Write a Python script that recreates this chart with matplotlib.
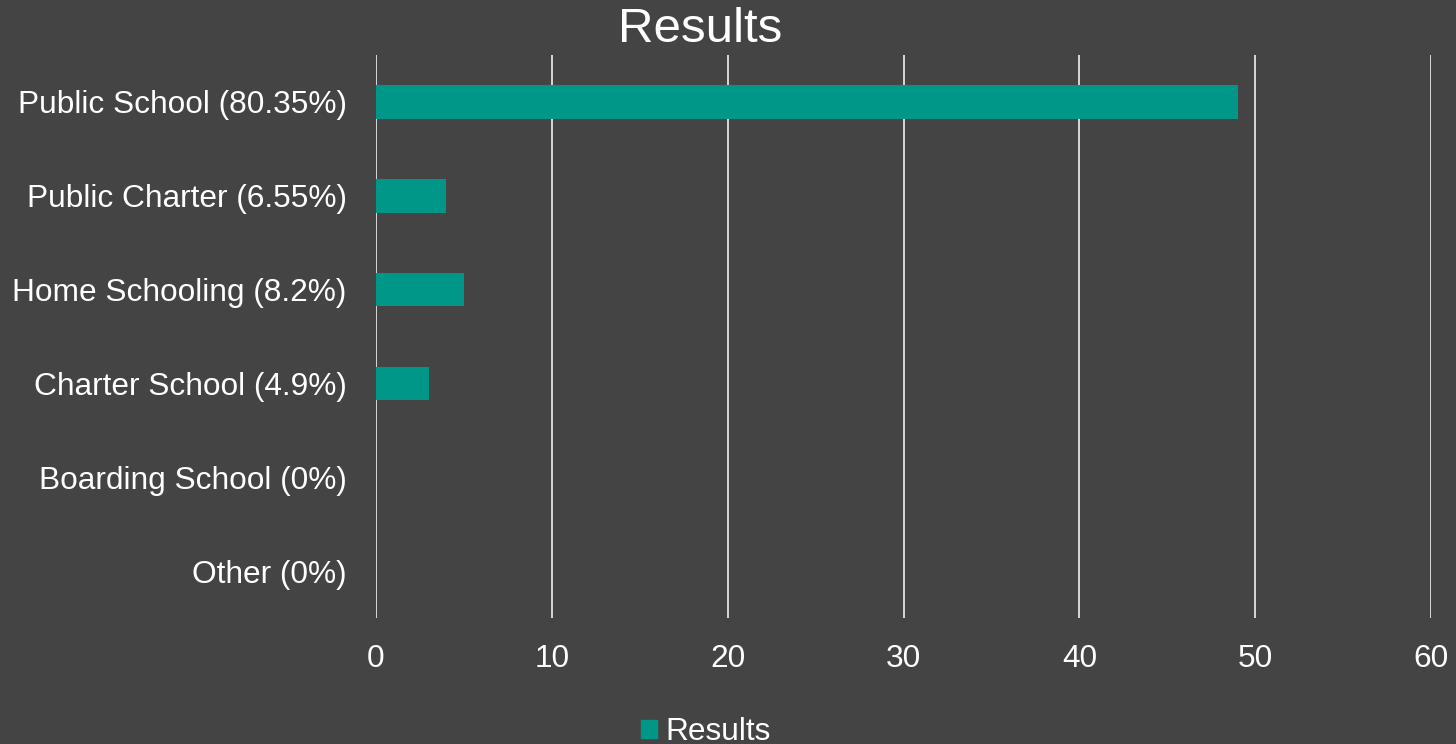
import matplotlib
matplotlib.use("Agg")
import matplotlib.pyplot as plt
from matplotlib.patches import Patch

categories = ["Public School (80.35%)", "Public Charter (6.55%)", "Home Schooling (8.2%)",
              "Charter School (4.9%)", "Boarding School (0%)", "Other (0%)"]
values = [49, 4, 5, 3, 0, 0]
xticks = [0, 10, 20, 30, 40, 50, 60]
series_name = "Results"

bg = "#444444"
bar_color = "#009688"
plt.rcParams["font.family"] = ["Liberation Sans", "DejaVu Sans"]

fig = plt.figure(figsize=(14.56, 7.44), dpi=100, facecolor=bg)
ax = fig.add_axes([376/1456, 1-618/744, (1431-376)/1456, (618-55)/744])
ax.set_facecolor(bg)

y = list(range(len(categories)))
ax.barh(y, values, height=0.36, color=bar_color, zorder=3)
ax.set_ylim(len(categories)-0.5, -0.5)
ax.set_xlim(0, 60)
ax.set_xticks(xticks)
ax.set_yticks(y)
ax.set_yticklabels(categories)
ax.tick_params(axis="both", length=0, colors="white", labelsize=22.8)
ax.tick_params(axis="x", pad=19)
ax.tick_params(axis="y", pad=21)
ax.grid(axis="x", color="white", linewidth=1.1, zorder=1)
for s in ax.spines.values():
    s.set_visible(False)

fig.text(700/1456, 1-30/744, "Results", ha="center", va="center", color="white", fontsize=35.5)

fig.legend(handles=[Patch(color=bar_color, label=series_name)], loc="center",
           bbox_to_anchor=(706/1456, 1-732/744), frameon=False, fontsize=22.8,
           labelcolor="white", handlelength=0.5, handleheight=0.5, handletextpad=0.28,
           borderpad=0, borderaxespad=0)

fig.savefig("out.png", dpi=100, facecolor=bg)
